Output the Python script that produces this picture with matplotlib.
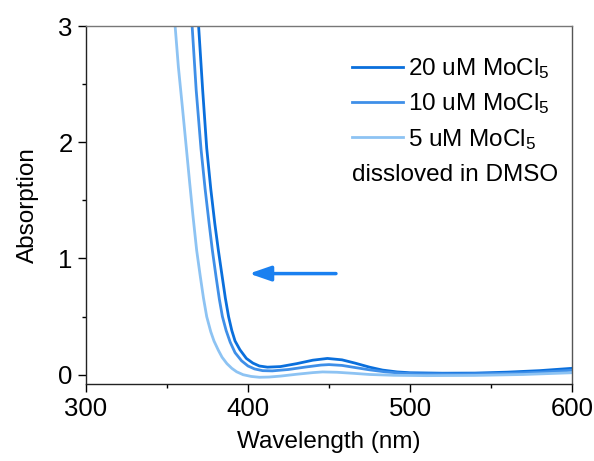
import matplotlib
matplotlib.use("Agg")
import matplotlib.pyplot as plt
from matplotlib.ticker import MultipleLocator

plt.rcParams['font.family'] = ['Liberation Sans', 'DejaVu Sans']
plt.rcParams['mathtext.fontset'] = 'custom'
plt.rcParams['mathtext.rm'] = 'Liberation Sans'
plt.rcParams['mathtext.it'] = 'Liberation Sans'

# absorption spectra (wavelength nm, absorbance)
wl_20 = [368, 369.5, 372, 374.5, 377, 379.5, 381.7, 384, 386, 388, 390, 392, 395, 399,
         403, 407, 412, 420, 430, 440, 449, 458, 466, 475, 483, 492, 500, 520, 540,
         560, 580, 600]
abs_20 = [3.3, 3.0, 2.45, 1.95, 1.6, 1.3, 1.07, 0.85, 0.66, 0.50, 0.38, 0.29, 0.215,
          0.14, 0.10, 0.075, 0.065, 0.07, 0.095, 0.125, 0.14, 0.128, 0.10, 0.065,
          0.04, 0.024, 0.017, 0.013, 0.014, 0.022, 0.035, 0.055]

wl_10 = [363.5, 365.5, 368, 371, 373.5, 376, 378, 380.3, 382.3, 384.2, 386.5, 389, 392,
         396, 400, 404, 409, 415, 425, 435, 445, 450, 458, 466, 475, 485, 495, 505, 530,
         560, 580, 600]
abs_10 = [3.3, 3.0, 2.45, 1.94, 1.6, 1.3, 1.07, 0.84, 0.65, 0.50, 0.38, 0.28, 0.19,
          0.12, 0.075, 0.05, 0.035, 0.033, 0.045, 0.065, 0.083, 0.087, 0.08, 0.062,
          0.042, 0.024, 0.013, 0.008, 0.006, 0.012, 0.022, 0.038]

wl_5 = [353, 355, 357, 359.5, 362, 364, 366, 368.3, 370.5, 372.5, 374.5, 377, 379,
        381.7, 384, 387, 390, 393, 397, 402, 407, 413, 420, 430, 440, 446, 455, 465,
        475, 490, 510, 540, 570, 600]
abs_5 = [3.3, 3.0, 2.65, 2.3, 1.94, 1.65, 1.37, 1.07, 0.85, 0.66, 0.50, 0.37, 0.29,
         0.21, 0.15, 0.095, 0.055, 0.025, 0.0, -0.015, -0.022, -0.02, -0.012, 0.004,
         0.018, 0.024, 0.021, 0.012, 0.002, -0.005, -0.008, -0.006, 0.002, 0.017]

labels = ['20 uM MoCl$_5$', '10 uM MoCl$_5$', '5 uM MoCl$_5$']
colors = ['#0a6fdc', '#3f8fe8', '#8dc3f3']
note = 'dissloved in DMSO'

fig = plt.figure(figsize=(5.94, 4.61), dpi=100)
ax = fig.add_axes([0.1448, 0.167, 0.8182, 0.7766])

ax.plot(wl_20, abs_20, color=colors[0], lw=2.0, label=labels[0])
ax.plot(wl_10, abs_10, color=colors[1], lw=2.0, label=labels[1])
ax.plot(wl_5, abs_5, color=colors[2], lw=2.0, label=labels[2])

# arrow showing the blue shift
ax.annotate('', xy=(399, 0.87), xytext=(456, 0.87),
            arrowprops=dict(arrowstyle='-|>,head_length=1.3,head_width=0.45',
                            color='#1a80f0', lw=2.5))

ax.set_xlim(300, 600)
ax.set_ylim(-0.08, 3)
ax.xaxis.set_major_locator(MultipleLocator(100))
ax.xaxis.set_minor_locator(MultipleLocator(50))
ax.yaxis.set_major_locator(MultipleLocator(1))
ax.yaxis.set_minor_locator(MultipleLocator(0.5))
ax.tick_params(which='major', direction='out', length=6, width=1, labelsize=18.5)
ax.tick_params(which='minor', direction='out', length=3, width=1)
for s in ax.spines.values():
    s.set_linewidth(1)
    s.set_color('#222222')
ax.spines['top'].set_color('#777777')
ax.spines['right'].set_color('#555555')

ax.set_xlabel('Wavelength (nm)', fontsize=17.5, labelpad=7)
ax.set_ylabel('Absorption', fontsize=17.5, labelpad=14)

ax.legend(loc='upper left', bbox_to_anchor=(0.547, 0.915), frameon=False,
          fontsize=17.5, handlelength=2.1, handletextpad=0.2, labelspacing=0.42,
          borderaxespad=0, borderpad=0)
ax.text(0.547, 0.585, note, transform=ax.transAxes, fontsize=17.5,
        ha='left', va='center')

fig.savefig('out.png', dpi=100)
